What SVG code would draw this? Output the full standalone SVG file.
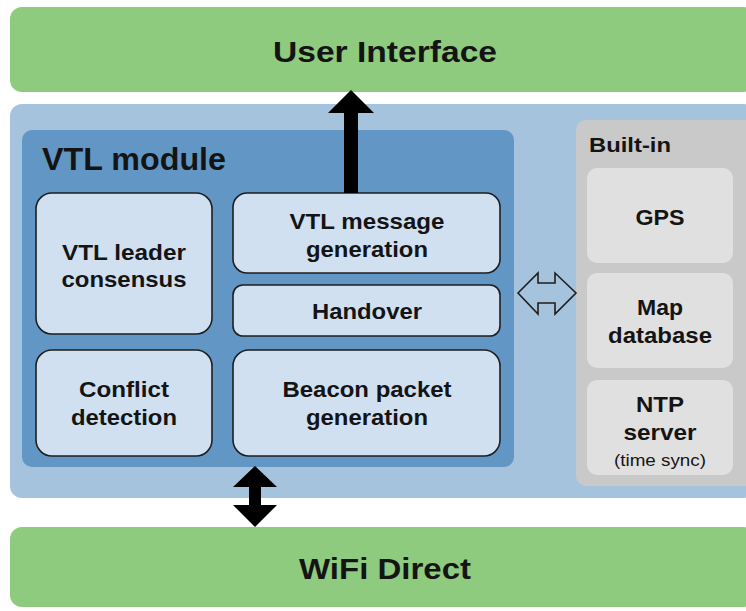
<svg xmlns="http://www.w3.org/2000/svg" width="746" height="611" viewBox="0 0 746 611">
<style>
.lbl{font-family:"Liberation Sans",Arial,sans-serif;font-weight:bold;fill:#141414;text-anchor:middle}
.reg{font-weight:normal}
.box{fill:#d0e0f1;stroke:#1e1e1e;stroke-width:1.6}
.gbox{fill:#e0e0e0}
.green{fill:#8fcb7f}
.arrow{fill:#000}
</style>
<rect width="746" height="611" fill="#fff"/>
<g id="user-interface">
<rect class="green" x="10" y="7" width="746" height="85" rx="12"/>
<text class="lbl" x="385" y="62" font-size="30" textLength="224" lengthAdjust="spacingAndGlyphs">User Interface</text>
</g>
<g id="platform">
<rect x="10" y="104" width="746" height="394" rx="12" fill="#a6c3de"/>
</g>
<g id="vtl-module">
<rect x="22" y="130" width="492" height="337" rx="10" fill="#6297c5"/>
<text class="lbl" x="42" y="170" font-size="31" style="text-anchor:start" textLength="184" lengthAdjust="spacingAndGlyphs">VTL module</text>
</g>
<g id="vtl-leader-consensus">
<rect class="box" x="36" y="193" width="176" height="141" rx="16"/>
<text class="lbl" x="124" y="260" font-size="22" textLength="124" lengthAdjust="spacingAndGlyphs">VTL leader</text>
<text class="lbl" x="124" y="287" font-size="22" textLength="125" lengthAdjust="spacingAndGlyphs">consensus</text>
</g>
<g id="vtl-message-generation">
<rect class="box" x="233" y="193" width="267" height="80" rx="14"/>
<text class="lbl" x="367" y="229" font-size="22" textLength="155" lengthAdjust="spacingAndGlyphs">VTL message</text>
<text class="lbl" x="367" y="257" font-size="22" textLength="122" lengthAdjust="spacingAndGlyphs">generation</text>
</g>
<g id="handover">
<rect class="box" x="233" y="285" width="267" height="51" rx="10"/>
<text class="lbl" x="367" y="319" font-size="22" textLength="110" lengthAdjust="spacingAndGlyphs">Handover</text>
</g>
<g id="conflict-detection">
<rect class="box" x="36" y="350" width="176" height="106" rx="16"/>
<text class="lbl" x="124" y="397" font-size="22" textLength="90" lengthAdjust="spacingAndGlyphs">Conflict</text>
<text class="lbl" x="124" y="425" font-size="22" textLength="106" lengthAdjust="spacingAndGlyphs">detection</text>
</g>
<g id="beacon-packet-generation">
<rect class="box" x="233" y="350" width="267" height="106" rx="16"/>
<text class="lbl" x="367" y="397" font-size="22" textLength="169" lengthAdjust="spacingAndGlyphs">Beacon packet</text>
<text class="lbl" x="367" y="425" font-size="22" textLength="122" lengthAdjust="spacingAndGlyphs">generation</text>
</g>
<g id="built-in">
<rect x="576" y="120" width="180" height="366" rx="10" fill="#c9c9c9"/>
<text class="lbl" x="589" y="152" font-size="21" style="text-anchor:start" textLength="82" lengthAdjust="spacingAndGlyphs">Built-in</text>
</g>
<g id="gps">
<rect class="gbox" x="587" y="168" width="146" height="95" rx="10"/>
<text class="lbl" x="660" y="225" font-size="22" textLength="49" lengthAdjust="spacingAndGlyphs">GPS</text>
</g>
<g id="map-database">
<rect class="gbox" x="587" y="273" width="146" height="95" rx="10"/>
<text class="lbl" x="660" y="315" font-size="22" textLength="46" lengthAdjust="spacingAndGlyphs">Map</text>
<text class="lbl" x="660" y="343" font-size="22" textLength="104" lengthAdjust="spacingAndGlyphs">database</text>
</g>
<g id="ntp-server">
<rect class="gbox" x="587" y="380" width="146" height="95" rx="10"/>
<text class="lbl" x="660" y="412" font-size="22" textLength="48" lengthAdjust="spacingAndGlyphs">NTP</text>
<text class="lbl" x="660" y="440" font-size="22" textLength="73" lengthAdjust="spacingAndGlyphs">server</text>
<text class="lbl reg" x="660" y="466" font-size="16" textLength="92" lengthAdjust="spacingAndGlyphs">(time sync)</text>
</g>
<g id="wifi-direct">
<rect class="green" x="10" y="527" width="746" height="80" rx="12"/>
<text class="lbl" x="385" y="579" font-size="30" textLength="172" lengthAdjust="spacingAndGlyphs">WiFi Direct</text>
</g>
<g id="connectors">
<polygon class="arrow" points="344,193 344,113 328,113 351,90 374,113 358,113 358,193"/>
<polygon class="arrow" points="255,466 277,487 261,487 261,505 277,505 255,527 233,505 249,505 249,487 233,487"/>
<polygon points="518,293 538,273 538,283 555,283 555,273 576,293 555,314 555,303 538,303 538,314" fill="#a6c3de" stroke="#1e1e1e" stroke-width="1.6"/>
</g>
</svg>
